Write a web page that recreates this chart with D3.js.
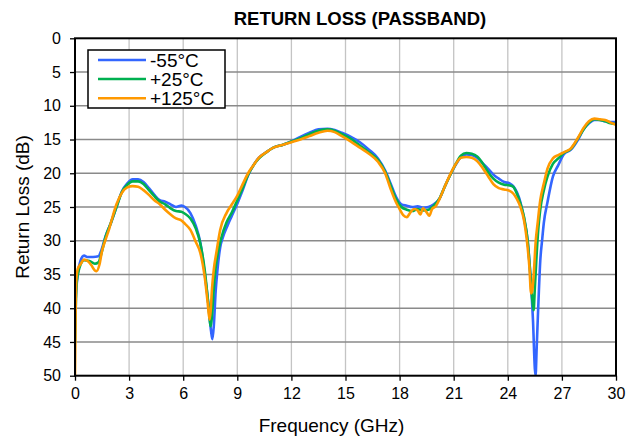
<!DOCTYPE html>
<html><head><meta charset="utf-8">
<script src="https://cdn.jsdelivr.net/npm/d3@7"></script>
<style>html,body{margin:0;padding:0;background:#fff;}svg{display:block;font-family:"Liberation Sans",Arial,sans-serif;}</style>
</head><body><svg id="c" width="637" height="439"></svg>
<script>
const title = "RETURN LOSS (PASSBAND)";
const xTitle = "Frequency (GHz)";
const yTitle = "Return Loss (dB)";
const xTicks = [0,3,6,9,12,15,18,21,24,27,30];
const yTicks = [0,5,10,15,20,25,30,35,40,45,50];
const seriesNames = ["-55°C","+25°C","+125°C"];
const seriesColors = ["#3366ff","#00b050","#ff9900"];

const minus55 = [[0,41],[0.05,38],[0.15,35],[0.3,33],[0.5,32.2],[0.7,32.4],[1.0,32.4],[1.3,32.3],[1.45,31.5],[1.7,29.3],[2.0,27.3],[2.3,25.0],[2.6,22.7],[2.9,21.5],[3.2,20.9],[3.5,20.9],[3.8,21.3],[4.1,22.2],[4.4,23.2],[4.7,24.0],[5.0,24.2],[5.3,24.6],[5.6,25.0],[5.9,24.8],[6.1,25.0],[6.4,25.9],[6.7,27.8],[6.95,30.3],[7.2,35.0],[7.4,39.5],[7.55,43.5],[7.62,44.6],[7.7,42.5],[7.8,37.5],[7.9,34.3],[8.05,31.0],[8.2,29.5],[8.45,27.8],[8.7,26.3],[9.0,24.5],[9.3,22.5],[9.6,20.3],[9.9,18.8],[10.2,17.7],[10.6,16.9],[11.0,16.2],[11.5,15.8],[12.0,15.3],[12.5,14.6],[13.0,14.0],[13.5,13.5],[14.0,13.4],[14.4,13.6],[14.8,14.0],[15.3,14.6],[15.8,15.4],[16.3,16.5],[16.8,17.8],[17.2,19.6],[17.5,21.5],[17.8,23.5],[18.1,24.6],[18.4,24.8],[18.7,25.0],[19.0,24.9],[19.3,25.1],[19.6,25.0],[19.9,24.6],[20.2,23.8],[20.5,22.0],[20.8,20.3],[21.1,18.8],[21.4,17.6],[21.7,17.2],[22.0,17.3],[22.3,17.7],[22.6,18.5],[22.9,19.3],[23.2,20.2],[23.5,20.8],[23.8,21.3],[24.1,21.5],[24.3,21.9],[24.5,22.8],[24.7,24.3],[24.9,26.7],[25.1,30.0],[25.25,35.0],[25.4,42.0],[25.5,49],[25.54,50],[25.6,46],[25.7,39],[25.8,33],[25.9,30.0],[26.0,27.3],[26.2,24.3],[26.5,20.5],[26.8,18.8],[27.1,17.2],[27.5,16.5],[27.9,15.0],[28.2,13.5],[28.5,12.6],[28.8,12.1],[29.1,12.1],[29.4,12.3],[29.7,12.4],[30.0,12.4]];

const plus25 = [[0,45],[0.04,40],[0.1,36],[0.25,34],[0.5,32.9],[0.8,33.0],[1.1,33.4],[1.3,33.2],[1.5,31.5],[1.7,29.4],[2.0,27.3],[2.3,25.0],[2.6,22.8],[2.9,21.7],[3.2,21.2],[3.5,21.2],[3.8,21.6],[4.1,22.5],[4.4,23.4],[4.7,24.2],[5.0,24.6],[5.3,25.2],[5.6,25.6],[5.9,25.7],[6.1,26.0],[6.4,26.7],[6.7,28.2],[6.95,30.4],[7.2,34.5],[7.4,39.5],[7.53,42.7],[7.6,41.0],[7.7,37.0],[7.8,34.0],[7.95,31.5],[8.1,29.7],[8.4,27.3],[8.7,25.8],[9.0,24.0],[9.3,22.2],[9.6,20.2],[9.9,18.8],[10.2,17.8],[10.6,16.9],[11.0,16.2],[11.5,15.8],[12.0,15.3],[12.5,14.8],[13.0,14.2],[13.5,13.7],[14.0,13.5],[14.4,13.7],[14.8,14.2],[15.3,14.9],[15.8,15.9],[16.3,16.9],[16.8,18.0],[17.2,19.8],[17.5,21.8],[17.8,23.8],[18.1,25.0],[18.4,25.4],[18.7,25.6],[19.0,25.3],[19.3,25.5],[19.6,25.4],[19.9,24.8],[20.2,23.8],[20.5,22.0],[20.8,20.3],[21.1,18.7],[21.4,17.4],[21.7,17.0],[22.0,17.1],[22.3,17.5],[22.6,18.5],[22.9,19.8],[23.2,20.8],[23.5,21.4],[23.8,21.7],[24.1,21.8],[24.3,22.0],[24.5,23.0],[24.7,24.5],[24.9,26.5],[25.1,30.0],[25.25,35.0],[25.35,38.5],[25.43,40.3],[25.5,37.0],[25.6,32.0],[25.7,28.0],[25.8,25.4],[26.0,22.5],[26.2,20.5],[26.5,18.6],[26.8,17.8],[27.1,17.0],[27.5,16.4],[27.9,14.8],[28.2,13.5],[28.5,12.5],[28.8,12.0],[29.1,12.1],[29.4,12.3],[29.7,12.6],[30.0,12.7]];

const plus125 = [[0,50],[0.03,42],[0.07,36],[0.15,34.2],[0.3,33.5],[0.5,32.8],[0.7,33.0],[0.9,33.6],[1.1,34.4],[1.2,34.5],[1.35,33.6],[1.5,31.5],[1.7,29.8],[1.9,28.2],[2.1,26.3],[2.3,24.6],[2.6,22.9],[2.9,22.1],[3.2,21.9],[3.5,22.0],[3.8,22.5],[4.1,23.2],[4.4,24.0],[4.7,24.6],[5.0,25.4],[5.3,26.1],[5.6,26.7],[5.9,27.0],[6.1,27.5],[6.4,28.4],[6.7,30.2],[6.95,31.8],[7.2,35.5],[7.35,39.0],[7.46,41.7],[7.52,40.5],[7.6,37.0],[7.7,34.2],[7.85,31.6],[8.05,28.4],[8.4,25.9],[8.7,24.6],[9.0,23.3],[9.3,21.6],[9.6,20.0],[9.9,18.8],[10.2,17.7],[10.6,16.9],[11.0,16.2],[11.5,15.8],[12.0,15.4],[12.5,15.0],[13.0,14.5],[13.5,14.0],[14.0,13.7],[14.4,13.9],[14.8,14.5],[15.3,15.3],[15.8,16.2],[16.3,17.1],[16.8,18.3],[17.2,20.0],[17.5,22.3],[17.8,24.3],[18.0,25.3],[18.2,26.2],[18.4,26.5],[18.6,25.8],[18.8,25.3],[19.0,25.5],[19.15,26.1],[19.3,25.2],[19.5,25.8],[19.65,26.3],[19.8,25.3],[20.0,24.9],[20.2,23.9],[20.5,22.0],[20.8,20.2],[21.1,18.7],[21.4,17.7],[21.7,17.6],[22.0,17.7],[22.3,18.2],[22.6,19.2],[22.9,20.4],[23.2,21.6],[23.5,22.2],[23.8,22.4],[24.1,22.6],[24.3,23.0],[24.5,23.8],[24.7,25.0],[24.9,27.0],[25.1,31.0],[25.2,34.0],[25.29,37.8],[25.35,37.5],[25.43,35.3],[25.55,30.0],[25.65,27.5],[25.8,24.0],[26.0,21.5],[26.2,19.3],[26.5,17.8],[26.8,17.3],[27.1,16.9],[27.5,16.3],[27.9,14.7],[28.2,13.3],[28.5,12.3],[28.8,11.9],[29.1,12.0],[29.4,12.1],[29.7,12.5],[30.0,12.8]];

const allSeries = [minus55, plus25, plus125];

const L = 75, R = 616, T = 38.3, B = 375.7;
const svg = d3.select("#c");
const x = d3.scaleLinear().domain([0,30]).range([L,R]);
const y = d3.scaleLinear().domain([0,50]).range([T,B]);

// vertical grid
svg.append("g").selectAll("line").data(xTicks.slice(1,-1)).join("line")
  .attr("x1",d=>x(d)).attr("x2",d=>x(d)).attr("y1",T).attr("y2",B)
  .attr("stroke","#c4c4c4").attr("stroke-width",1.3);
// horizontal grid
svg.append("g").selectAll("line").data(yTicks.slice(1,-1)).join("line")
  .attr("x1",L).attr("x2",R).attr("y1",d=>y(d)).attr("y2",d=>y(d))
  .attr("stroke","#8a8a8a").attr("stroke-width",1.5);

// clip
svg.append("clipPath").attr("id","pc").append("rect")
  .attr("x",L).attr("y",T).attr("width",R-L).attr("height",B-T);

const line = d3.line().x(d=>x(d[0])).y(d=>y(d[1])).curve(d3.curveMonotoneX);
const lg = svg.append("g").attr("clip-path","url(#pc)");
allSeries.forEach((s,i)=>{
  lg.append("path").attr("d",line(s)).attr("fill","none")
    .attr("stroke",seriesColors[i]).attr("stroke-width",2.6)
    .attr("stroke-linejoin","round").attr("stroke-linecap","round");
});

// axes
const xAxis = d3.axisBottom(x).tickValues(xTicks).tickSize(5).tickPadding(7);
const gx = svg.append("g").attr("transform",`translate(0,${B})`).call(xAxis);
gx.select(".domain").remove();
gx.selectAll("line").attr("stroke","#000").attr("stroke-width",1.3);
gx.selectAll("text").attr("font-size",16).attr("fill","#000").attr("font-family","Liberation Sans, Arial, sans-serif");

const yAxis = d3.axisLeft(y).tickValues(yTicks).tickSize(5).tickPadding(9);
const gy = svg.append("g").attr("transform",`translate(${L},0)`).call(yAxis);
gy.select(".domain").remove();
gy.selectAll("line").attr("stroke","#000").attr("stroke-width",1.3);
gy.selectAll("text").attr("font-size",16).attr("fill","#000").attr("font-family","Liberation Sans, Arial, sans-serif");

// frame
svg.append("rect").attr("x",L).attr("y",T).attr("width",R-L).attr("height",B-T)
  .attr("fill","none").attr("stroke","#000").attr("stroke-width",2);

// titles
svg.append("text").attr("x",360).attr("y",25).attr("text-anchor","middle")
  .attr("font-size",18.5).attr("font-weight","bold").text(title);
svg.append("text").attr("x",331.5).attr("y",431.5).attr("text-anchor","middle")
  .attr("font-size",19).text(xTitle);
svg.append("text").attr("transform","translate(29,207) rotate(-90)").attr("text-anchor","middle")
  .attr("font-size",19).text(yTitle);

// legend
const leg = svg.append("g");
leg.append("rect").attr("x",88).attr("y",50).attr("width",137).attr("height",58)
  .attr("fill","#fff").attr("stroke","#000").attr("stroke-width",1.5);
const rowY = [60,79,98.3];
seriesNames.forEach((n,i)=>{
  leg.append("line").attr("x1",98).attr("x2",146).attr("y1",rowY[i]).attr("y2",rowY[i])
    .attr("stroke",seriesColors[i]).attr("stroke-width",2.6);
  leg.append("text").attr("x",150).attr("y",rowY[i]+6.8).attr("font-size",19).text(n);
});
</script></body></html>
